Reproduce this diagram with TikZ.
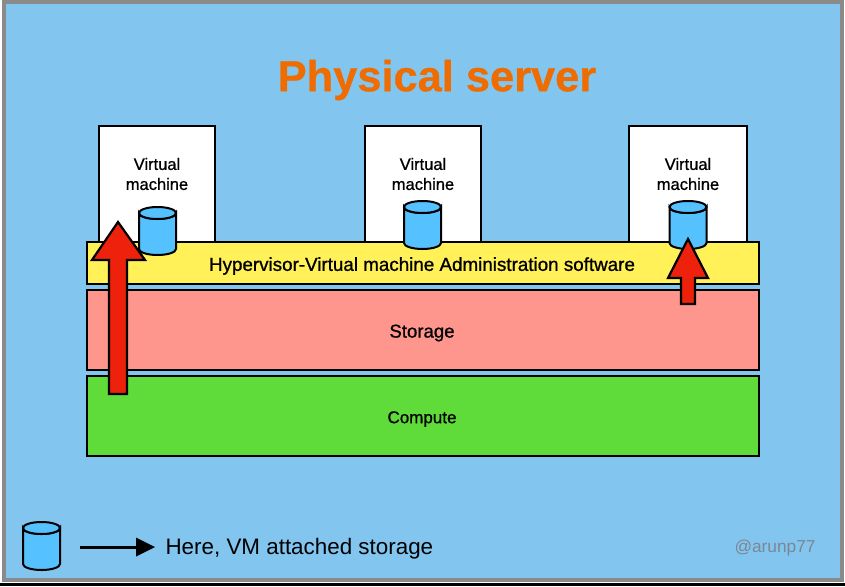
\documentclass[tikz,border=0pt]{standalone}
\usepackage{fontspec}
\setmainfont{Liberation Sans}
\newfontfamily\medf[FakeBold=0.9]{Liberation Sans}
\newfontfamily\titlef[FakeBold=0.6]{Liberation Sans Bold}
\definecolor{skyb}{HTML}{82C6F0}
\definecolor{frameg}{HTML}{8A8A8A}
\definecolor{hyp}{HTML}{FFF157}
\definecolor{stor}{HTML}{FF968D}
\definecolor{comp}{HTML}{5FDC3A}
\definecolor{redar}{HTML}{EE220C}
\definecolor{cylb}{HTML}{56C1FF}
\definecolor{orng}{HTML}{EF6C00}
\definecolor{tag}{HTML}{7A8794}
\tikzset{
  vmbox/.style={draw=black,line width=2pt,fill=white,minimum width=116pt,minimum height=116pt,inner sep=0pt,outer sep=0pt},
  vmtext/.style={font=\medf\fontsize{16.5}{20}\selectfont,align=center,text=black},
  layerbox/.style={draw=black,line width=2pt,minimum width=672pt,inner sep=0pt,outer sep=0pt},
  blockarrow/.style={draw=black,line width=2.2pt,fill=redar,line join=miter},
  cyl/.pic={
    \path[draw=black,line width=2pt,fill=cylb]
      (-18.5,0) arc[start angle=180,end angle=360,x radius=18.5,y radius=-6] -- (18.5,36)
      arc[start angle=0,end angle=-180,x radius=18.5,y radius=-6] -- cycle;
    \path[draw=black,line width=2pt,fill=cylb] (0,0) ellipse[x radius=18.5,y radius=6];
  }
}
\begin{document}
\begin{tikzpicture}[x=1pt,y=-1pt]
\useasboundingbox (0,0) rectangle (845,586);
\fill[white] (0,0) rectangle (845,586);
\fill[black] (0,583) rectangle (845,586);
\node[draw=frameg,line width=4pt,fill=skyb,minimum width=838pt,minimum height=577pt,inner sep=0pt,outer sep=0pt] (frame) at (423,291) {};
\node[font=\titlef\fontsize{43.4}{48}\selectfont,text=orng] (title) at (437,80) {Physical server};
\node[vmbox] (vma) at (157,184) {};
\node[vmbox] (vmb) at (423,184) {};
\node[vmbox,minimum width=118pt] (vmc) at (688,184) {};
\node[vmtext] (vmat) at (157,174) {Virtual\\machine};
\node[vmtext] (vmbt) at (423,174) {Virtual\\machine};
\node[vmtext] (vmct) at (688,174) {Virtual\\machine};
\node[layerbox,fill=hyp,minimum height=42pt] (hypervisor) at (423,263) {};
\node[layerbox,fill=stor,minimum height=80pt] (storage) at (423,330) {};
\node[layerbox,fill=comp,minimum height=80pt] (compute) at (423,416) {};
\node[font=\medf\fontsize{18.8}{22}\selectfont] (hypt) at (422,266) {Hypervisor-Virtual machine Administration software};
\node[font=\medf\fontsize{18.6}{22}\selectfont] (stort) at (422,333) {Storage};
\node[font=\medf\fontsize{17}{20}\selectfont] (compt) at (422,419) {Compute};
\pic at (157.5,213) {cyl};
\pic at (422.5,207) {cyl};
\pic at (688,207) {cyl};
\draw[blockarrow] (118,222) -- (145,260) -- (127,260) -- (127,394) -- (109,394) -- (109,260) -- (92,260) -- cycle;
\draw[blockarrow] (688,239) -- (708,278) -- (695,278) -- (695,304) -- (681,304) -- (681,278) -- (668,278) -- cycle;
\pic at (41.5,528) {cyl};
\coordinate (legs) at (80,547);
\coordinate (lege) at (136,547);
\draw[line width=3pt] (legs) -- (lege);
\fill (136,537.5) -- (155,547) -- (136,556.5) -- cycle;
\node[anchor=west,font=\fontsize{22.4}{26}\selectfont,text=black] (legend) at (162,549) {Here, VM attached storage};
\node[anchor=west,font=\fontsize{17.3}{20}\selectfont,text=tag] (credit) at (731,548) {@arunp77};
\end{tikzpicture}
\end{document}
